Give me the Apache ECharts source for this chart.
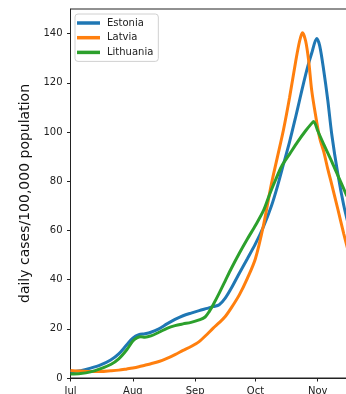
<!DOCTYPE html>
<html>
<head>
<meta charset="utf-8">
<script src="https://cdn.jsdelivr.net/npm/echarts@6/dist/echarts.min.js"></script>
<style>
  html, body { margin: 0; padding: 0; background: #fff; }
  #chart { width: 346px; height: 394px; }
</style>
</head>
<body>
<div id="chart"></div>
<script>
// x values: days since 1 July
const monthTickDays = [0, 31, 62, 92, 123];
const monthTickLabels = ['Jul', 'Aug', 'Sep', 'Oct', 'Nov'];
const yTicks = [0, 20, 40, 60, 80, 100, 120, 140];

const estoniaDays  = [0, 5, 10, 15, 20, 24, 28, 31, 34, 37, 40, 44, 48, 52, 56, 60, 64, 68, 71, 74, 77, 80, 84, 88, 92, 96, 100, 103, 106, 109, 112, 114, 116, 118, 120, 122.5, 124, 126, 128, 130, 133, 136, 139];
const estoniaCases = [2.5, 3.0, 4.0, 5.3, 7.3, 9.8, 13.5, 16.2, 17.6, 18.0, 18.6, 20.0, 22.0, 23.8, 25.3, 26.4, 27.4, 28.3, 29.0, 29.8, 32.5, 36.5, 42.6, 48.5, 54.5, 61.5, 70, 78, 87, 96, 106, 113, 120, 126.5, 132, 138, 135, 125, 113, 99, 83, 70, 60];

const latviaDays  = [0, 5, 10, 15, 20, 24, 28, 31, 34, 37, 40, 44, 48, 52, 56, 60, 64, 68, 71, 74, 77, 80, 84, 88, 92, 96, 100, 103, 106, 109, 112, 114, 115.4, 117, 118.5, 120, 122, 124, 126, 128, 130, 133, 136, 139];
const latviaCases = [3.0, 2.8, 2.6, 2.6, 2.9, 3.2, 3.7, 4.1, 4.6, 5.2, 5.8, 6.7, 8.0, 9.5, 11.2, 12.8, 14.8, 17.8, 20.3, 22.5, 25, 28.5, 33.8, 40.5, 48.5, 62, 79, 90, 101, 114, 128.5, 137, 140.3, 137, 129, 117, 106.5, 97.5, 92, 85, 78.6, 68.7, 58.5, 49];

const lithuaniaDays  = [0, 5, 10, 15, 20, 24, 28, 31, 33, 35, 37, 40, 44, 48, 52, 56, 60, 64, 67, 69, 71, 74, 77, 80, 84, 88, 92, 96, 99, 102, 105, 109, 113, 117, 120, 121, 123, 126, 130, 134, 137, 140];
const lithuaniaCases = [1.6, 1.8, 2.5, 3.8, 5.5, 7.8, 11.5, 15, 16.3, 16.8, 16.6, 17.1, 18.6, 20.2, 21.3, 22.0, 22.6, 23.6, 24.8, 27, 29.8, 34.5, 39.5, 44.5, 50.7, 56.5, 62, 68, 74.5, 80.5, 86, 91, 96, 100.5, 103.5, 104.3, 100.5, 95, 88, 80.5, 75, 70];

const seriesNames = ['Estonia', 'Latvia', 'Lithuania'];
const seriesColors = ['#1f77b4', '#ff7f0e', '#2ca02c'];
const seriesDays = [estoniaDays, latviaDays, lithuaniaDays];
const seriesCases = [estoniaCases, latviaCases, lithuaniaCases];

const FONT = 'DejaVu Sans';
const chart = echarts.init(document.getElementById('chart'), null, { renderer: 'canvas' });

const series = seriesNames.map((name, i) => ({
  name: name,
  type: 'line',
  data: seriesDays[i].map((d, j) => [d, seriesCases[i][j]]),
  showSymbol: false,
  smooth: 0.3,
  lineStyle: { width: 3, color: seriesColors[i] },
  itemStyle: { color: seriesColors[i] },
  emphasis: { disabled: true }
}));

chart.setOption({
  animation: false,
  backgroundColor: '#fff',
  grid: {
    left: 70.5, top: 9, right: -32, bottom: 16,
    outerBoundsMode: 'none',
    containLabel: false,
    show: true, borderColor: '#222', borderWidth: 1, backgroundColor: 'transparent'
  },
  legend: {
    data: seriesNames,
    orient: 'vertical',
    left: 75, top: 14,
    icon: 'rect',
    itemWidth: 23, itemHeight: 3.5,
    itemGap: 2.7,
    padding: [3, 5, 3, 2],
    borderColor: '#d0d0d0', borderWidth: 1, borderRadius: 3,
    backgroundColor: 'rgba(255,255,255,0.8)',
    textStyle: { fontFamily: FONT, fontSize: 10, color: '#222', lineHeight: 12, padding: [0, 0, 0, 2] }
  },
  xAxis: {
    type: 'value',
    min: 0, max: 153,
    axisLine: { show: true, lineStyle: { color: '#222', width: 1 } },
    axisTick: { show: true, length: 3.5, lineStyle: { color: '#222' }, customValues: monthTickDays },
    axisLabel: {
      customValues: monthTickDays,
      formatter: (v) => monthTickLabels[monthTickDays.indexOf(v)] || '',
      fontFamily: FONT, fontSize: 10, color: '#222', margin: 8
    },
    splitLine: { show: false }
  },
  yAxis: {
    type: 'value',
    min: 0, max: 150,
    name: 'daily cases/100,000 population',
    nameLocation: 'middle',
    nameGap: 33,
    nameTextStyle: { fontFamily: FONT, fontSize: 14, color: '#111' },
    axisLine: { show: true, lineStyle: { color: '#222', width: 1 } },
    axisTick: { show: true, length: 3.5, lineStyle: { color: '#222' }, customValues: yTicks },
    axisLabel: {
      customValues: yTicks,
      fontFamily: FONT, fontSize: 10, color: '#222', margin: 8
    },
    splitLine: { show: false }
  },
  series: series
});
</script>
</body>
</html>
